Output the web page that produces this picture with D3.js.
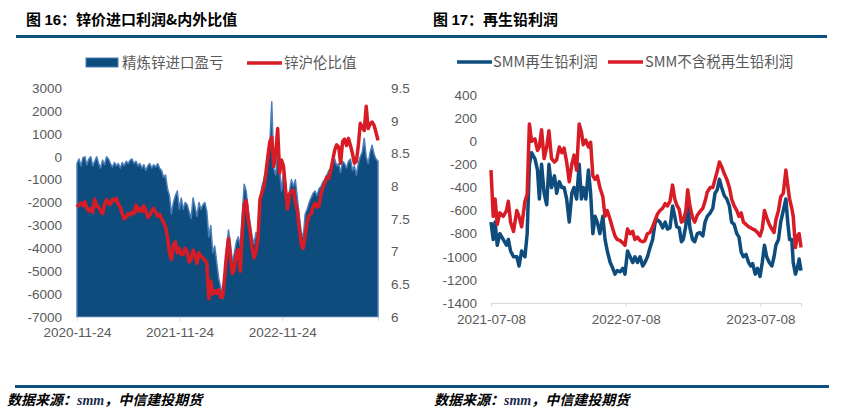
<!DOCTYPE html>
<html><head><meta charset="utf-8">
<script src="https://cdn.jsdelivr.net/npm/d3@7/dist/d3.min.js"></script>
<style>body{margin:0;background:#fff} svg{display:block}</style>
</head><body><svg id="c" width="846" height="417"></svg>
<script>
// ---------- Chart 16 data (weekly samples) ----------
const zincStart = "2020-11-24";
const zincProfit = [
-300,-100,-400,-50,0,-350,-100,0,-400,-200,0,-300,-500,-150,-350,0,-100,-300,-450,-250,
-400,-300,-500,-250,-400,-200,-300,-150,-100,-300,-200,-400,-300,-500,-350,-600,-400,-300,-500,-350,
-450,-300,-500,-600,-900,-800,-1400,-1700,-2500,-2000,-1700,-1500,-2300,-1800,-2300,-2000,-2100,-2400,-2700,-1800,
-2200,-2600,-2000,-2300,-2100,-2000,-2400,-3500,-3000,-4200,-3900,-4600,-5300,-5700,-6200,-5200,-4000,-3200,-3800,-4600,
-4200,-3700,-3500,-3900,-2500,-1200,-1500,-2300,-2900,-3500,-3800,-3300,-3500,-1800,-1300,-1000,-600,0,600,2400,
-500,-800,300,-600,-1500,-600,-1200,-2000,-1500,-1000,-1300,-1000,-1800,-2600,-3300,-3500,-2500,-2300,-2000,-1800,
-1600,-1500,-1700,-1400,-1300,-1100,-1000,-800,-600,-500,-300,-100,-400,-300,-700,-200,-300,-500,-200,-100,
-600,-400,-800,-300,0,200,800,0,-300,200,500,100,-100,-200];
const zincRatio = [
7.68,7.72,7.74,7.70,7.76,7.66,7.62,7.66,7.60,7.80,7.70,7.68,7.62,7.58,7.72,7.79,7.74,7.72,7.80,7.78,
7.81,7.72,7.68,7.58,7.50,7.53,7.58,7.56,7.60,7.58,7.71,7.62,7.66,7.61,7.70,7.62,7.52,7.56,7.62,7.66,
7.60,7.54,7.57,7.50,7.44,7.38,7.22,6.98,6.88,7.10,7.15,6.98,7.05,6.95,6.96,7.05,7.00,6.84,6.88,7.02,
6.95,6.82,6.98,6.93,6.90,6.87,6.82,6.28,6.55,6.35,6.40,6.36,6.42,6.30,6.30,6.60,6.95,7.20,6.90,6.66,
6.75,6.97,7.03,6.70,7.30,7.72,7.78,7.50,7.30,7.05,6.90,7.00,7.20,7.80,7.90,8.00,8.20,8.45,8.68,8.75,
8.30,8.50,8.88,8.20,8.40,8.30,7.95,7.65,7.88,7.92,7.94,7.75,7.63,7.35,7.10,7.05,7.25,7.45,7.55,7.58,
7.68,7.74,7.68,7.70,7.88,7.98,8.05,8.14,8.12,8.24,8.40,8.55,8.63,8.60,8.35,8.68,8.72,8.62,8.73,8.62,
8.50,8.35,8.38,8.62,8.96,8.90,8.85,9.22,8.88,8.95,8.98,8.93,8.82,8.70];
const zincXTicks = ["2020-11-24","2021-11-24","2022-11-24"];
const zincLeftTicks = [3000,2000,1000,0,-1000,-2000,-3000,-4000,-5000,-6000,-7000];
const zincRightTicks = [9.5,9,8.5,8,7.5,7,6.5,6];

// ---------- Chart 17 data ----------
const leadDates = [
"2021-07-08","2021-07-14","2021-07-19","2021-07-25","2021-08-01","2021-08-10","2021-08-19","2021-08-24","2021-08-30","2021-09-07",
"2021-09-16","2021-09-22","2021-09-29","2021-10-08","2021-10-14","2021-10-20","2021-10-26","2021-11-04","2021-11-11","2021-11-16",
"2021-11-22","2021-11-29","2021-12-06","2021-12-12","2021-12-19","2021-12-27","2022-01-02","2022-01-09","2022-01-16","2022-01-22",
"2022-01-29","2022-02-05","2022-02-12","2022-02-18","2022-02-25","2022-03-04","2022-03-10","2022-03-15","2022-03-22","2022-03-29",
"2022-04-04","2022-04-10","2022-04-16","2022-04-22","2022-04-29","2022-05-07","2022-05-13","2022-05-19","2022-05-27","2022-06-03",
"2022-06-09","2022-06-15","2022-06-23","2022-06-30","2022-07-06","2022-07-13","2022-07-20","2022-07-27","2022-08-02","2022-08-09",
"2022-08-16","2022-08-23","2022-08-29","2022-09-05","2022-09-12","2022-09-19","2022-09-26","2022-10-02","2022-10-09","2022-10-16",
"2022-10-23","2022-10-29","2022-11-05","2022-11-12","2022-11-18","2022-11-23","2022-11-30","2022-12-06","2022-12-11","2022-12-18",
"2022-12-23","2022-12-29","2023-01-05","2023-01-11","2023-01-18","2023-01-25","2023-02-02","2023-02-08","2023-02-14","2023-02-22",
"2023-03-01","2023-03-07","2023-03-13","2023-03-19","2023-03-25","2023-04-01","2023-04-08","2023-04-15","2023-04-21","2023-04-28",
"2023-05-05","2023-05-11","2023-05-17","2023-05-23","2023-05-30","2023-06-06","2023-06-12","2023-06-17","2023-06-24","2023-06-30",
"2023-07-07","2023-07-13","2023-07-19","2023-07-25","2023-08-01","2023-08-08","2023-08-14","2023-08-19","2023-08-26","2023-09-01",
"2023-09-08","2023-09-15","2023-09-20","2023-09-25","2023-10-01","2023-10-05","2023-10-11","2023-10-16","2023-10-21","2023-10-26"];
const leadProfit = [
-700,-850,-700,-900,-800,-850,-900,-850,-950,-1000,
-1000,-1080,-950,-1000,-800,-200,-100,-150,-250,-500,
-200,-450,-550,-200,-400,-300,-450,-350,-400,-400,
-500,-700,-450,-400,-500,-200,-500,-400,-500,-250,
-450,-800,-650,-700,-800,-650,-850,-950,-1050,-1100,
-1150,-1120,-1130,-1100,-1150,-950,-1000,-1050,-1000,-1050,
-1000,-1080,-1050,-1000,-920,-850,-700,-680,-700,-750,
-700,-760,-750,-560,-650,-740,-750,-870,-850,-730,
-530,-750,-850,-870,-800,-790,-820,-700,-650,-620,
-580,-450,-420,-330,-400,-470,-500,-560,-700,-720,
-800,-830,-960,-1000,-980,-1050,-1080,-1060,-1150,-1100,
-1170,-1050,-900,-1000,-1050,-1080,-1000,-900,-850,-700,
-600,-500,-700,-850,-850,-1050,-1150,-1100,-1020,-1120];
const leadProfitNoTax = [
-250,-650,-500,-720,-620,-650,-600,-520,-700,-780,
-600,-650,-740,-520,-460,150,0,20,-80,-50,
100,-150,-50,90,-150,-180,-160,-50,-100,-60,
-180,-350,-200,-120,-250,150,80,-30,10,-50,
-10,-300,-330,-300,-400,-480,-650,-600,-680,-760,
-820,-850,-860,-880,-900,-760,-800,-780,-850,-830,
-860,-870,-860,-800,-790,-740,-680,-630,-600,-580,
-540,-560,-520,-380,-500,-550,-590,-700,-690,-600,
-420,-560,-660,-700,-640,-610,-580,-520,-440,-400,
-400,-330,-260,-180,-220,-280,-330,-400,-500,-560,
-600,-650,-620,-700,-720,-740,-750,-760,-770,-790,
-820,-760,-600,-660,-720,-760,-790,-680,-600,-480,
-450,-250,-380,-500,-580,-650,-920,-820,-800,-920];
const leadXTicks = ["2021-07-08","2022-07-08","2023-07-08"];
const leadYTicks = [400,200,0,-200,-400,-600,-800,-1000,-1200,-1400];

// ---------- styles ----------
const BLUE = "#0d4c7c", BLUE_EDGE = "#4a7ebb", RED = "#d81c25", GRAY = "#595959", AXIS = "#d9d9d9";
const FONT = "'Liberation Sans', Arial, 'Noto Sans CJK SC', sans-serif";
const CJK = "'Noto Sans CJK SC', sans-serif";
const parse = d3.timeParse("%Y-%m-%d");
const svg = d3.select("#c");
svg.append("rect").attr("width",846).attr("height",417).attr("fill","#fff");

// header / footer bars
svg.append("rect").attr("x",16).attr("y",35).attr("width",811).attr("height",3).attr("fill","#0b5283");
svg.append("rect").attr("x",15).attr("y",385).attr("width",814).attr("height",3).attr("fill","#0b5283");

function title(x, num, txt){
  const t = svg.append("text").attr("x",x).attr("y",25).attr("font-size",15).attr("font-weight","bold").attr("fill","#000").attr("font-family",CJK);
  t.append("tspan").text("图 ");
  t.append("tspan").attr("font-family","'Liberation Sans', Arial").text(num);
  t.append("tspan").text("：" + txt);
}
title(26,"16","锌价进口利润&内外比值");
title(433,"17","再生铅利润");

function source(x){
  const t = svg.append("text").attr("x",x).attr("y",405).attr("font-size",14).attr("font-weight","bold").attr("font-style","italic").attr("fill","#000").attr("font-family",CJK);
  t.append("tspan").text("数据来源：");
  t.append("tspan").attr("font-family","'Liberation Serif', serif").attr("fill","#1a2a4a").text("smm");
  t.append("tspan").text("，中信建投期货");
}
source(7); source(434);

// ---------- Chart 16 ----------
const z0 = parse(zincStart);
const zincData = zincProfit.map((v,i)=>({d:d3.timeDay.offset(z0,i*7), p:v, r:zincRatio[i]}));
const x1 = d3.scaleTime().domain(d3.extent(zincData,d=>d.d)).range([77,378]);
const y1 = d3.scaleLinear().domain([-7000,3000]).range([317,88]);
const y1r = d3.scaleLinear().domain([6,9.5]).range([317,88]);

svg.append("path").datum(zincData)
  .attr("d", d3.area().x(d=>x1(d.d)).y0(y1(-7000)).y1(d=>y1(d.p)))
  .attr("fill",BLUE).attr("stroke",BLUE_EDGE).attr("stroke-width",1.5).attr("stroke-linejoin","round");

const gx1 = svg.append("g").attr("transform","translate(0,317)")
  .call(d3.axisBottom(x1).tickValues(zincXTicks.map(parse)).tickFormat(d3.timeFormat("%Y-%m-%d")).tickSize(4).tickPadding(6));
gx1.select(".domain").attr("stroke",AXIS);
gx1.selectAll(".tick line").attr("stroke",AXIS);
gx1.selectAll("text").attr("font-size",13.5).attr("font-family",FONT).attr("fill",GRAY);

const gy1 = svg.append("g").attr("transform","translate(62,0)")
  .call(d3.axisLeft(y1).tickValues(zincLeftTicks).tickFormat(d=>String(d)).tickSize(0).tickPadding(0));
gy1.select(".domain").remove();
gy1.selectAll("text").attr("font-size",13.5).attr("font-family",FONT).attr("fill",GRAY);

const gy1r = svg.append("g").attr("transform","translate(391,0)")
  .call(d3.axisRight(y1r).tickValues(zincRightTicks).tickFormat(d=>String(d)).tickSize(0).tickPadding(0));
gy1r.select(".domain").remove();
gy1r.selectAll("text").attr("font-size",13.5).attr("font-family",FONT).attr("fill",GRAY);

svg.append("path").datum(zincData)
  .attr("d", d3.line().x(d=>x1(d.d)).y(d=>y1r(d.r)))
  .attr("fill","none").attr("stroke",RED).attr("stroke-width",3.5).attr("stroke-linejoin","round");

// legend 16
svg.append("rect").attr("x",86).attr("y",58).attr("width",32).attr("height",9).attr("fill",BLUE).attr("stroke",BLUE_EDGE).attr("stroke-width",1);
svg.append("text").attr("x",122).attr("y",68).attr("font-size",14.5).attr("font-family",CJK).attr("fill",GRAY).text("精炼锌进口盈亏");
svg.append("line").attr("x1",247).attr("x2",282).attr("y1",63).attr("y2",63).attr("stroke",RED).attr("stroke-width",3.5);
svg.append("text").attr("x",284).attr("y",68).attr("font-size",14.5).attr("font-family",CJK).attr("fill",GRAY).text("锌沪伦比值");

// ---------- Chart 17 ----------
const leadData = leadDates.map((s,i)=>({d:parse(s), a:leadProfit[i], b:leadProfitNoTax[i]}));
const x2 = d3.scaleTime().domain(d3.extent(leadData,d=>d.d)).range([491,801]);
const y2 = d3.scaleLinear().domain([-1400,400]).range([303,95]);

const gx2 = svg.append("g").attr("transform","translate(0,303)")
  .call(d3.axisBottom(x2).tickValues(leadXTicks.map(parse)).tickFormat(d3.timeFormat("%Y-%m-%d")).tickSize(4).tickPadding(7));
gx2.select(".domain").attr("stroke",AXIS);
gx2.selectAll(".tick line").attr("stroke",AXIS);
gx2.selectAll("text").attr("font-size",13.5).attr("font-family",FONT).attr("fill",GRAY);

const gy2 = svg.append("g").attr("transform","translate(477,0)")
  .call(d3.axisLeft(y2).tickValues(leadYTicks).tickFormat(d=>String(d)).tickSize(0).tickPadding(0));
gy2.select(".domain").remove();
gy2.selectAll("text").attr("font-size",13.5).attr("font-family",FONT).attr("fill",GRAY);

svg.append("path").datum(leadData)
  .attr("d", d3.line().x(d=>x2(d.d)).y(d=>y2(d.a)))
  .attr("fill","none").attr("stroke",BLUE).attr("stroke-width",3.5).attr("stroke-linejoin","round");
svg.append("path").datum(leadData)
  .attr("d", d3.line().x(d=>x2(d.d)).y(d=>y2(d.b)))
  .attr("fill","none").attr("stroke",RED).attr("stroke-width",3.5).attr("stroke-linejoin","round");

// legend 17
svg.append("line").attr("x1",457).attr("x2",492).attr("y1",62).attr("y2",62).attr("stroke",BLUE).attr("stroke-width",3.5);
svg.append("text").attr("x",493).attr("y",67).attr("font-size",14.5).attr("font-family",CJK).attr("fill",GRAY).text("SMM再生铅利润");
svg.append("line").attr("x1",608).attr("x2",643).attr("y1",62).attr("y2",62).attr("stroke",RED).attr("stroke-width",3.5);
svg.append("text").attr("x",645).attr("y",67).attr("font-size",14.5).attr("font-family",CJK).attr("fill",GRAY).text("SMM不含税再生铅利润");
</script></body></html>
